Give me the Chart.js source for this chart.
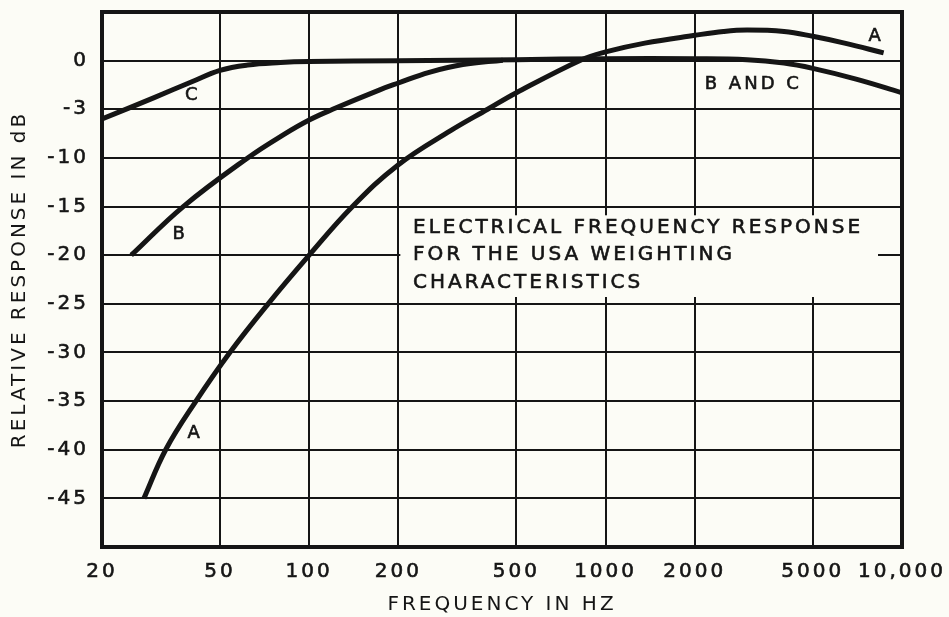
<!DOCTYPE html>
<html>
<head>
<meta charset="utf-8">
<script src="https://cdn.jsdelivr.net/npm/chart.js@4.4.0/dist/chart.umd.min.js"></script>
<style>
  html, body { margin: 0; padding: 0; background: #fcfcf6; }
  #wrap { width: 949px; height: 617px; }
</style>
</head>
<body>
<div id="wrap"><canvas id="chart" width="949" height="617"></canvas></div>
<script>
// curve readings: frequency in Hz, relative response in dB
const freqA  = [27.7, 32.8, 41.5, 54, 72.7, 100, 140, 200, 300, 400, 500, 830, 1000, 1356, 2000, 2500, 3000, 4000, 5000, 6400, 8670];
const levelA = [-45, -40, -35, -30, -25, -20, -15, -10.7, -7.2, -5.0, -3.3, 0.1, 0.9, 1.8, 2.6, 3.0, 3.15, 3.0, 2.5, 1.8, 0.8];
const freqB  = [25.1, 37.6, 62, 82, 100, 120, 173, 200, 254, 330, 450];
const levelB = [-20, -15, -10, -7.6, -6.1, -5.0, -3.0, -2.3, -1.2, -0.4, 0.05];
const freqC  = [20, 30, 40, 50, 62, 80, 100, 200, 500, 1000, 2000, 3000, 4000, 5000, 7000, 10000];
const levelC = [-6.0, -3.8, -2.2, -1.0, -0.45, -0.2, -0.1, 0, 0.1, 0.2, 0.2, 0.1, -0.25, -0.8, -1.9, -3.3];

// axis ticks (the "-3" is printed that way on the original)
const xTicks = [20, 50, 100, 200, 500, 1000, 2000, 5000, 10000];
const xTickLabels = ["20", "50", "100", "200", "500", "1000", "2000", "5000", "10,000"];
const yTicks = [0, -5, -10, -15, -20, -25, -30, -35, -40, -45];
const yTickLabels = ["0", "-3", "-10", "-15", "-20", "-25", "-30", "-35", "-40", "-45"];

// curve names written next to the lines
const curveNames = ["C", "B", "A", "A", "B AND C"];
const curveNameFreq = [40.5, 36.7, 41.2, 8186, 3150];
const curveNameLevel = [-3.6, -17.9, -38.3, 2.5, -2.4];

// the note in the middle of the grid
const noteLines = ["ELECTRICAL FREQUENCY RESPONSE", "FOR THE USA WEIGHTING", "CHARACTERISTICS"];
const noteFreq = 224;
const noteLevels = [-17.2, -20.0, -22.8];
const noteBox = [203, 8300, -15.9, -24.3];

const paper = "#fcfcf6";
const ink = "#151515";
const fontName = "'DejaVu Sans', sans-serif";

function points(fs, ls) {
  return fs.map((f, i) => ({ x: f, y: ls[i] }));
}

function curve(label, fs, ls) {
  return {
    label: label,
    data: points(fs, ls),
    borderColor: ink,
    borderWidth: 5,
    pointRadius: 0,
    fill: false,
    tension: 0.4,
  };
}

const paperPlugin = {
  id: "paper",
  beforeDraw(chart) {
    const ctx = chart.ctx;
    ctx.save();
    ctx.fillStyle = paper;
    ctx.fillRect(0, 0, chart.width, chart.height);
    ctx.restore();
    ctx.letterSpacing = "3px";
  },
  beforeDatasetsDraw(chart) {
    const { ctx, chartArea: a, scales: { x, y } } = chart;
    ctx.save();
    // blank patch behind the note
    const x0 = x.getPixelForValue(noteBox[0]);
    const x1 = x.getPixelForValue(noteBox[1]);
    const y0 = y.getPixelForValue(noteBox[2]);
    const y1 = y.getPixelForValue(noteBox[3]);
    ctx.fillStyle = paper;
    ctx.fillRect(x0, y0, x1 - x0, y1 - y0);
    // heavy frame
    ctx.strokeStyle = ink;
    ctx.lineWidth = 4;
    ctx.strokeRect(a.left, a.top, a.right - a.left, a.bottom - a.top);
    ctx.restore();
  },
  afterDatasetsDraw(chart) {
    const { ctx, scales: { x, y } } = chart;
    ctx.save();
    ctx.letterSpacing = "3px";
    ctx.fillStyle = ink;
    ctx.strokeStyle = ink;
    ctx.lineWidth = 0.6;
    ctx.textBaseline = "middle";

    ctx.font = "20px " + fontName;
    ctx.textAlign = "left";
    noteLines.forEach((t, i) => {
      const px = x.getPixelForValue(noteFreq), py = y.getPixelForValue(noteLevels[i]);
      ctx.fillText(t, px, py);
      ctx.strokeText(t, px, py);
    });

    ctx.font = "18px " + fontName;
    ctx.textAlign = "center";
    curveNames.forEach((t, i) => {
      const px = x.getPixelForValue(curveNameFreq[i]), py = y.getPixelForValue(curveNameLevel[i]);
      ctx.fillText(t, px, py);
      ctx.strokeText(t, px, py);
    });
    ctx.restore();
  },
};

Chart.defaults.font.family = fontName;
Chart.defaults.font.size = 20;
Chart.defaults.color = ink;

new Chart(document.getElementById("chart"), {
  type: "line",
  data: {
    datasets: [
      curve("A", freqA, levelA),
      curve("B", freqB, levelB),
      curve("C", freqC, levelC),
    ],
  },
  options: {
    responsive: false,
    animation: false,
    devicePixelRatio: 1,
    layout: { padding: { top: 12, right: 47, bottom: 0, left: 0 } },
    plugins: {
      legend: { display: false },
      tooltip: { enabled: false },
    },
    scales: {
      x: {
        type: "logarithmic",
        min: 20,
        max: 10000,
        afterBuildTicks: (scale) => {
          scale.ticks = xTicks.map((v) => ({ value: v }));
        },
        afterFit: (scale) => {
          scale.height = 70;
          scale.paddingLeft = 0;
          scale.paddingRight = 0;
        },
        grid: { color: ink, lineWidth: 2, drawTicks: false },
        border: { display: false },
        ticks: {
          autoSkip: false,
          maxRotation: 0,
          padding: 13,
          textStrokeColor: ink,
          textStrokeWidth: 0.6,
          callback: (value) => {
            const i = xTicks.indexOf(value);
            return i >= 0 ? xTickLabels[i] : "";
          },
        },
        title: {
          display: true,
          text: "FREQUENCY IN HZ",
          font: { size: 20 },
          padding: { top: 0, bottom: 0 },
        },
      },
      y: {
        min: -50,
        max: 5,
        afterFit: (scale) => {
          scale.width = 102;
          scale.paddingTop = 0;
          scale.paddingBottom = 0;
        },
        grid: { color: ink, lineWidth: 2, drawTicks: false },
        border: { display: false },
        ticks: {
          stepSize: 5,
          padding: 13,
          textStrokeColor: ink,
          textStrokeWidth: 0.6,
          callback: (value) => {
            const i = yTicks.indexOf(value);
            return i >= 0 ? yTickLabels[i] : "";
          },
        },
        title: {
          display: true,
          text: "RELATIVE RESPONSE IN dB",
          font: { size: 20 },
          padding: { top: 8, bottom: 0 },
        },
      },
    },
  },
  plugins: [paperPlugin],
});
</script>
</body>
</html>
